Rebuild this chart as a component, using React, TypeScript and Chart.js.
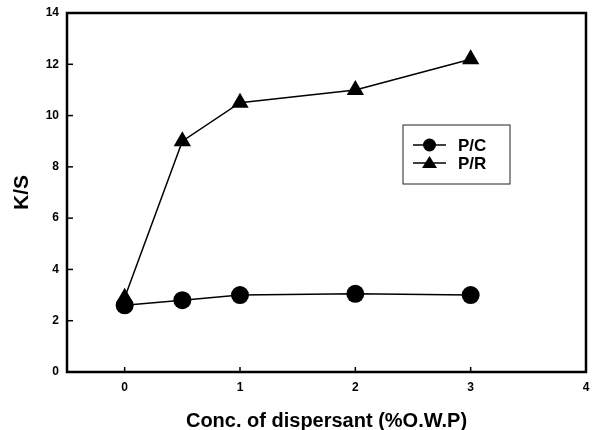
import React, { useEffect, useRef } from "react";
import { Chart, registerables } from "chart.js";

Chart.register(...registerables);

const xValues = [0, 0.5, 1, 2, 3];
const pcValues = [2.6, 2.8, 3.0, 3.05, 3.0];
const prValues = [2.9, 9.0, 10.5, 11.0, 12.2];
const xTicks = [0, 1, 2, 3, 4];
const yTicks = [0, 2, 4, 6, 8, 10, 12, 14];
const seriesLabels = ["P/C", "P/R"];
const xTitle = "Conc. of dispersant (%O.W.P)";
const yTitle = "K/S";

const FONT = "'Liberation Sans', Arial, sans-serif";

const framePlugin = {
  id: "frameTicks",
  afterDatasetsDraw(chart: any) {
    const ctx = chart.ctx;
    const { left, right, top, bottom } = chart.chartArea;
    const xs = chart.scales.x;
    const ys = chart.scales.y;
    ctx.save();
    ctx.strokeStyle = "#000";
    ctx.lineWidth = 1.5;
    yTicks.forEach((v) => {
      const y = ys.getPixelForValue(v);
      ctx.beginPath();
      ctx.moveTo(left, y);
      ctx.lineTo(left + 6, y);
      ctx.stroke();
    });
    xTicks.forEach((v) => {
      const x = xs.getPixelForValue(v);
      ctx.beginPath();
      ctx.moveTo(x, bottom);
      ctx.lineTo(x, bottom - 5);
      ctx.stroke();
    });
    ctx.lineWidth = 2.5;
    ctx.beginPath();
    ctx.moveTo(left, top);
    ctx.lineTo(right, top);
    ctx.lineTo(right, bottom);
    ctx.lineTo(left, bottom);
    ctx.closePath();
    ctx.stroke();

    // legend
    const bx = 403, by = 125, bw = 107, bh = 59;
    ctx.lineWidth = 1;
    ctx.strokeStyle = "#222";
    ctx.strokeRect(bx, by, bw, bh);
    const rows = [
      { label: seriesLabels[0], y: 145, shape: "circle" },
      { label: seriesLabels[1], y: 163, shape: "triangle" },
    ];
    rows.forEach((r) => {
      ctx.strokeStyle = "#000";
      ctx.lineWidth = 1.5;
      ctx.beginPath();
      ctx.moveTo(413, r.y);
      ctx.lineTo(446, r.y);
      ctx.stroke();
      ctx.fillStyle = "#000";
      ctx.beginPath();
      if (r.shape === "circle") {
        ctx.arc(429.5, r.y, 6.5, 0, Math.PI * 2);
      } else {
        ctx.moveTo(429.5, r.y - 7);
        ctx.lineTo(437, r.y + 5);
        ctx.lineTo(422, r.y + 5);
        ctx.closePath();
      }
      ctx.fill();
      ctx.font = `bold 17px ${FONT}`;
      ctx.textBaseline = "middle";
      ctx.textAlign = "left";
      ctx.fillText(r.label, 458, r.y + 1);
    });
    ctx.restore();
  },
};

export default function App() {
  const ref = useRef<HTMLCanvasElement>(null);
  useEffect(() => {
    document.body.style.margin = "0";
    const canvas = ref.current!;
    const chart = new Chart(canvas, {
      type: "scatter",
      data: {
        datasets: [
          {
            label: seriesLabels[0],
            data: xValues.map((x, i) => ({ x, y: pcValues[i] })),
            showLine: true,
            borderColor: "#000",
            backgroundColor: "#000",
            borderWidth: 1.5,
            pointStyle: "circle",
            pointRadius: 9,
            pointBorderWidth: 0,
          },
          {
            label: seriesLabels[1],
            data: xValues.map((x, i) => ({ x, y: prValues[i] })),
            showLine: true,
            borderColor: "#000",
            backgroundColor: "#000",
            borderWidth: 1.5,
            pointStyle: "triangle",
            pointRadius: 10,
            pointBorderWidth: 0,
          },
        ],
      },
      options: {
        animation: false,
        responsive: false,
        layout: { padding: { left: 0, top: 13, right: 0, bottom: 0 } },
        plugins: { legend: { display: false }, tooltip: { enabled: false } },
        scales: {
          x: {
            type: "linear",
            min: -0.5,
            max: 4,
            afterBuildTicks: (s: any) => {
              s.ticks = xTicks.map((v) => ({ value: v }));
            },
            afterFit: (s: any) => {
              s.height = 58;
              s.paddingRight = 9;
            },
            grid: { display: false, drawTicks: false },
            border: { display: false },
            ticks: {
              color: "#000",
              padding: 8,
              font: { family: FONT, size: 12, weight: "bold" },
            },
            title: {
              display: true,
              text: xTitle,
              color: "#000",
              font: { family: FONT, size: 20, weight: "bold" },
              padding: { top: 0, bottom: -3 },
            },
          },
          y: {
            type: "linear",
            min: 0,
            max: 14,
            afterBuildTicks: (s: any) => {
              s.ticks = yTicks.map((v) => ({ value: v }));
            },
            afterFit: (s: any) => {
              s.width = 67;
              s.paddingTop = 0;
              s.paddingBottom = 0;
            },
            grid: { display: false, drawTicks: false },
            border: { display: false },
            ticks: {
              color: "#000",
              padding: 8,
              font: { family: FONT, size: 12, weight: "bold" },
            },
            title: {
              display: true,
              text: yTitle,
              color: "#000",
              font: { family: FONT, size: 21, weight: "bold" },
              padding: { top: 10, bottom: 0 },
            },
          },
        },
      },
      plugins: [framePlugin],
    });
    return () => chart.destroy();
  }, []);
  return <canvas ref={ref} width={596} height={430} style={{ display: "block" }} />;
}
